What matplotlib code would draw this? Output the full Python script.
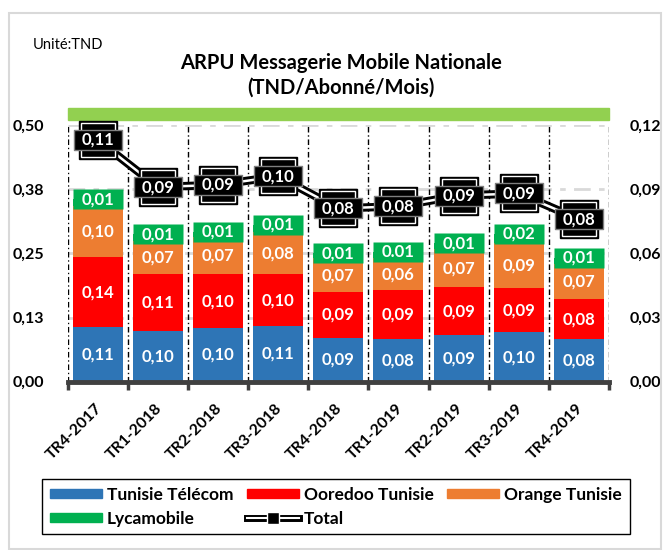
import matplotlib
matplotlib.use('Agg')
import matplotlib.pyplot as plt
import numpy as np
from matplotlib.path import Path
from matplotlib.patches import Rectangle, Patch
from matplotlib.lines import Line2D
import matplotlib.transforms as mtransforms

plt.rcParams['font.family'] = ['Lato', 'DejaVu Sans']

# ---------------- data ----------------
categories = ["TR4-2017", "TR1-2018", "TR2-2018", "TR3-2018", "TR4-2018",
              "TR1-2019", "TR2-2019", "TR3-2019", "TR4-2019"]
tunisie_telecom = [0.106, 0.099, 0.105, 0.109, 0.086, 0.084, 0.091, 0.096, 0.083]
ooredoo = [0.137, 0.110, 0.104, 0.100, 0.088, 0.094, 0.093, 0.087, 0.078]
orange = [0.100, 0.066, 0.072, 0.083, 0.066, 0.063, 0.074, 0.088, 0.068]
lycamobile = [0.012, 0.012, 0.011, 0.014, 0.010, 0.012, 0.012, 0.017, 0.012]
lyca_labels = ["0,01", "0,01", "0,01", "0,01", "0,01", "0.01", "0,01", "0,02", "0,01"]
total = [0.113, 0.091, 0.092, 0.096, 0.081, 0.082, 0.087, 0.088, 0.076]

left_ticks = [0, 0.125, 0.25, 0.375, 0.5]
left_tick_labels = ["0,00", "0,13", "0,25", "0,38", "0,50"]
right_ticks = [0, 0.03, 0.06, 0.09, 0.12]
right_tick_labels = ["0,00", "0,03", "0,06", "0,09", "0,12"]

series_names = ["Tunisie Télécom", "Ooredoo Tunisie", "Orange Tunisie", "Lycamobile"]
colors = ["#2E75B6", "#FF0000", "#ED7D31", "#00B050"]


def fmt(v):
    return f"{v:.2f}".replace('.', ',')


W, H = 663, 550
fig = plt.figure(figsize=(W / 100, H / 100), dpi=100)
x_left, x_right, y_bot, y_top = 67.6, 609.0, 381.7, 125.0
ax = fig.add_axes([x_left / W, 1 - y_bot / H, (x_right - x_left) / W, (y_bot - y_top) / H])

x = np.arange(len(categories))
ax.set_xlim(-0.5, len(categories) - 0.5)
ax.set_ylim(0, 0.5)

# grid
for yv in left_ticks[1:]:
    ax.axhline(yv, color="#D9D9D9", lw=2, ls=(0, (6, 3, 2, 3)), zorder=0.5)
ax.vlines(np.arange(-0.5, len(categories), 1), 0, 0.5, colors="black", lw=1,
          linestyles=(0, (4, 2, 1, 2)), zorder=0.6)

# stacked bars
bw = 0.83
bottom = np.zeros(len(categories))
series = [tunisie_telecom, ooredoo, orange, lycamobile]
for k, (vals, col) in enumerate(zip(series, colors)):
    vals = np.array(vals)
    ax.bar(x, vals, bw, bottom=bottom, color=col, zorder=2)
    if k < 3:
        for i, v in enumerate(vals):
            ax.text(i, bottom[i] + v / 2, fmt(v), color="white", fontweight="bold",
                    fontsize=12, ha="center", va="center", zorder=4)
    bottom = bottom + vals

# Lycamobile label boxes (centred at stack top)
rect_g = Path([(-1, -0.4), (1, -0.4), (1, 0.4), (-1, 0.4), (-1, -0.4)],
              [Path.MOVETO, Path.LINETO, Path.LINETO, Path.LINETO, Path.CLOSEPOLY])
ax.plot(x, bottom, ls="none", marker=rect_g, ms=36, mfc=colors[3], mec="none", zorder=3)
for i, lab in enumerate(lyca_labels):
    ax.text(i, bottom[i], lab, color="white", fontweight="bold", fontsize=12,
            ha="center", va="center", zorder=4)

# axes styling
for s in ["left", "right", "top"]:
    ax.spines[s].set_visible(False)
ax.spines["bottom"].set_linewidth(3.5)
ax.spines["bottom"].set_color("#404040")
ax.set_xticks(np.arange(-0.5, len(categories), 1))
ax.set_xticklabels([])
ax.tick_params(axis="x", length=6, width=2.5, color="#404040", direction="out")
ax.set_yticks(left_ticks)
ax.set_yticklabels(left_tick_labels)
ax.tick_params(axis="y", length=0, pad=17, labelsize=11.5)
for t in ax.get_yticklabels():
    t.set_fontweight("bold")

# category labels
trans = mtransforms.blended_transform_factory(ax.transData, ax.transAxes) + \
    mtransforms.ScaledTranslation(0.07, -0.20, fig.dpi_scale_trans)
for i, cat in enumerate(categories):
    ax.text(i, 0, cat, transform=trans, rotation=45, ha="right", va="top",
            fontsize=11.5, fontweight="bold")

# green band at top
ax.add_patch(Rectangle((0, 1 + 5 / 256.7), 1, 12 / 256.7, transform=ax.transAxes,
                       color="#92D050", clip_on=False, zorder=1))

# right axis with total
ax2 = ax.twinx()
ax2.set_ylim(0, 0.12)
ax2.set_yticks(right_ticks)
ax2.set_yticklabels(right_tick_labels)
ax2.tick_params(axis="y", length=0, pad=15, labelsize=11.5)
for t in ax2.get_yticklabels():
    t.set_fontweight("bold")
for s in ["left", "right", "top", "bottom"]:
    ax2.spines[s].set_visible(False)

ax2.plot(x, total, color="black", lw=6, zorder=3, clip_on=False)
ax2.plot(x, total, color="white", lw=1.8, zorder=4, clip_on=False)
ax2.plot(x, total, ls="none", marker="s", ms=27, mfc="black", mec="black", mew=1,
         zorder=5, clip_on=False)
ax2.plot(x, total, ls="none", marker="s", ms=25, mfc="black", mec="white", mew=1.0,
         zorder=6, clip_on=False)
rect_t = Path([(-1, -0.43), (1, -0.43), (1, 0.43), (-1, 0.43), (-1, -0.43)],
              [Path.MOVETO, Path.LINETO, Path.LINETO, Path.LINETO, Path.CLOSEPOLY])
ax2.plot(x, total, ls="none", marker=rect_t, ms=35, mfc="black", mec="#7F7F7F", mew=1,
         zorder=7, clip_on=False)
for i, v in enumerate(total):
    ax2.text(i, v, fmt(v), color="white", fontweight="bold", fontsize=12,
             ha="center", va="center", zorder=8, clip_on=False)

# titles
fig.text(341 / W, 1 - 63 / H, "ARPU Messagerie Mobile Nationale", fontsize=14.5,
         fontweight="bold", ha="center", va="center")
fig.text(341 / W, 1 - 88 / H, "(TND/Abonné/Mois)", fontsize=14.5,
         fontweight="bold", ha="center", va="center")
fig.text(33 / W, 1 - 45 / H, "Unité:TND", fontsize=10.5, ha="left", va="center")

# legend
h_tt = Patch(color=colors[0])
h_oo = Patch(color=colors[1])
h_or = Patch(color=colors[2])
h_ly = Patch(color=colors[3])
h_tot = (Line2D([], [], color="black", lw=5),
         Line2D([], [], color="white", lw=1.5),
         Line2D([], [], ls="none", marker="s", ms=9, mfc="black", mec="white", mew=1))
leg = fig.legend([h_tt, h_ly, h_oo, h_tot, h_or],
                 [series_names[0], series_names[3], series_names[1], "Total", series_names[2]],
                 ncol=3, loc="upper left", bbox_to_anchor=(42 / W, 1 - 479 / H),
                 bbox_transform=fig.transFigure, borderaxespad=0,
                 prop={"weight": "bold", "size": 12.5}, handlelength=3.0, handleheight=0.45,
                 handletextpad=0.3, columnspacing=0.75, borderpad=0.45, labelspacing=0.45,
                 fancybox=False, framealpha=1, edgecolor="black")
leg.get_frame().set_linewidth(1)

# outer border
fig.patches.append(Rectangle((9 / W, 1 - 549 / H), (661 - 9) / W, (549 - 13) / H,
                             transform=fig.transFigure, fill=False, ec="#D9D9D9", lw=1.5))

fig.savefig("out.png", dpi=100)
